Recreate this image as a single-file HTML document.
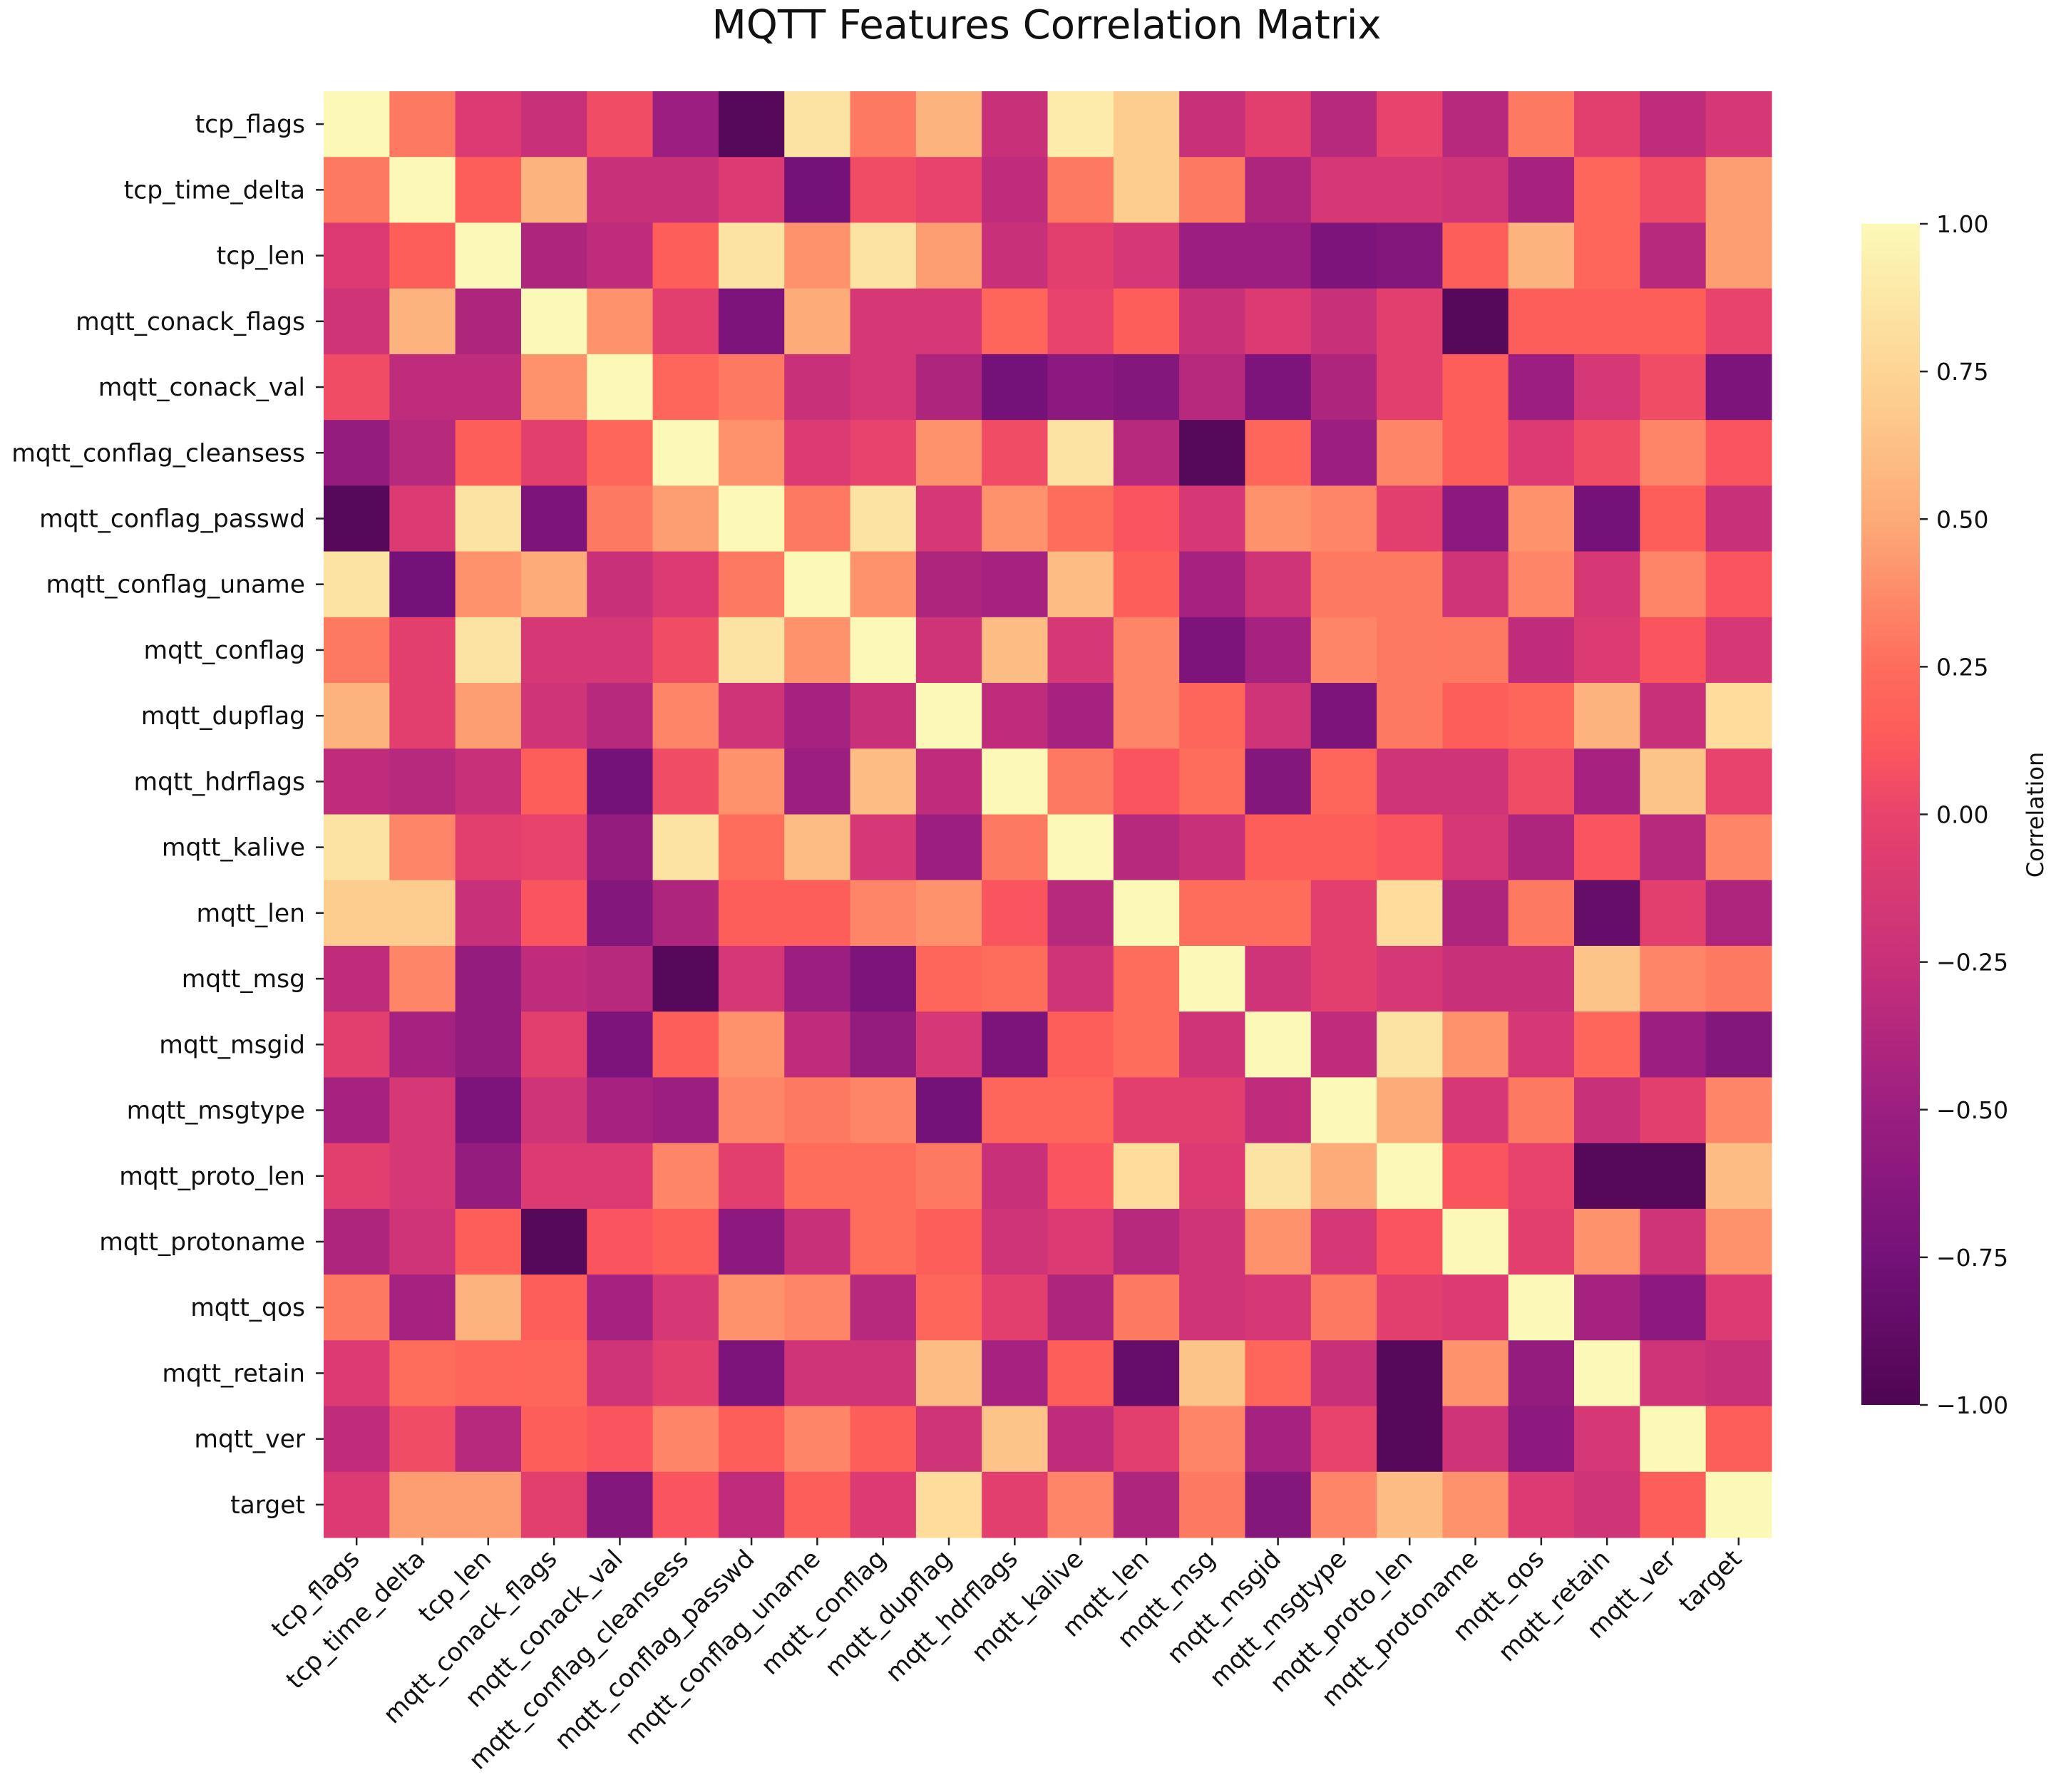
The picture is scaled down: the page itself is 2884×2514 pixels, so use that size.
<!DOCTYPE html>
<html><head><meta charset="utf-8"><style>
html,body{margin:0;padding:0;background:#fff;}
svg{display:block;font-family:"DejaVu Sans","Liberation Sans",sans-serif;}
</style></head><body>
<svg id="chart" width="2884" height="2514" viewBox="0 0 2884 2514" xmlns="http://www.w3.org/2000/svg">
<text x="1468" y="54" font-size="56" text-anchor="middle" fill="#111">MQTT Features Correlation Matrix</text>
<g id="cells"></g>
<g id="ylabels"></g>
<g id="xlabels"></g>
<defs><linearGradient id="cbgrad" x1="0" y1="1" x2="0" y2="0"></linearGradient></defs>
<rect x="2611" y="314" width="82" height="1657" fill="url(#cbgrad)"/>
<g id="cbticks"></g>
<text transform="translate(2866,1143) rotate(-90)" font-size="32" text-anchor="middle" fill="#111">Correlation</text>
</svg>
<script>
const labels = ["tcp_flags","tcp_time_delta","tcp_len","mqtt_conack_flags","mqtt_conack_val","mqtt_conflag_cleansess","mqtt_conflag_passwd","mqtt_conflag_uname","mqtt_conflag","mqtt_dupflag","mqtt_hdrflags","mqtt_kalive","mqtt_len","mqtt_msg","mqtt_msgid","mqtt_msgtype","mqtt_proto_len","mqtt_protoname","mqtt_qos","mqtt_retain","mqtt_ver","target"];
const row0 = [1,0.3,-0.1,-0.25,0.05,-0.5,-0.95,0.85,0.3,0.55,-0.25,0.9,0.7,-0.25,-0.05,-0.35,0.0,-0.35,0.3,-0.05,-0.3,-0.15];
const row1 = [0.3,1,0.15,0.55,-0.25,-0.25,-0.1,-0.75,0.05,0.0,-0.3,0.3,0.7,0.3,-0.4,-0.15,-0.15,-0.2,-0.45,0.2,0.05,0.45];
const row2 = [-0.1,0.15,1,-0.4,-0.3,0.15,0.85,0.4,0.85,0.45,-0.25,-0.05,-0.15,-0.5,-0.5,-0.7,-0.65,0.15,0.55,0.2,-0.35,0.45];
const row3 = [-0.2,0.55,-0.4,1,0.4,-0.05,-0.7,0.5,-0.15,-0.15,0.2,0.0,0.15,-0.25,-0.1,-0.25,-0.05,-0.95,0.15,0.15,0.15,0.0];
const row4 = [0.05,-0.3,-0.3,0.4,1,0.2,0.3,-0.25,-0.15,-0.4,-0.75,-0.6,-0.65,-0.35,-0.7,-0.4,-0.05,0.15,-0.5,-0.15,0.05,-0.7];
const row5 = [-0.55,-0.35,0.15,-0.05,0.2,1,0.4,-0.1,0.0,0.4,0.05,0.85,-0.35,-0.95,0.2,-0.5,0.35,0.15,-0.1,0.05,0.35,0.1];
const row6 = [-0.95,-0.1,0.85,-0.7,0.3,0.45,1,0.3,0.85,-0.15,0.4,0.25,0.1,-0.15,0.4,0.35,-0.05,-0.6,0.4,-0.75,0.15,-0.25];
const row7 = [0.85,-0.75,0.4,0.5,-0.25,-0.1,0.3,1,0.4,-0.4,-0.45,0.6,0.15,-0.45,-0.2,0.3,0.3,-0.2,0.35,-0.15,0.35,0.1];
const row8 = [0.3,-0.05,0.85,-0.15,-0.15,0.05,0.85,0.4,1,-0.2,0.6,-0.15,0.35,-0.7,-0.45,0.35,0.3,0.3,-0.3,-0.1,0.1,-0.15];
const row9 = [0.55,-0.05,0.45,-0.2,-0.35,0.35,-0.2,-0.45,-0.25,1,-0.3,-0.45,0.35,0.2,-0.2,-0.7,0.3,0.15,0.2,0.55,-0.25,0.8];
const row10 = [-0.3,-0.35,-0.25,0.15,-0.75,0.05,0.4,-0.5,0.6,-0.3,1,0.3,0.1,0.25,-0.65,0.2,-0.2,-0.2,0.05,-0.45,0.65,0.0];
const row11 = [0.85,0.35,-0.05,0.0,-0.55,0.85,0.25,0.6,-0.15,-0.5,0.3,1,-0.35,-0.25,0.15,0.15,0.1,-0.15,-0.4,0.1,-0.35,0.35];
const row12 = [0.7,0.7,-0.25,0.1,-0.65,-0.4,0.15,0.15,0.35,0.4,0.1,-0.35,1,0.25,0.25,-0.05,0.8,-0.4,0.3,-0.85,-0.05,-0.4];
const row13 = [-0.3,0.35,-0.55,-0.3,-0.35,-0.95,-0.15,-0.5,-0.7,0.2,0.25,-0.2,0.25,1,-0.2,-0.05,-0.15,-0.25,-0.25,0.65,0.35,0.3];
const row14 = [-0.05,-0.45,-0.55,-0.05,-0.7,0.15,0.4,-0.3,-0.55,-0.15,-0.7,0.15,0.25,-0.2,1,-0.3,0.85,0.4,-0.15,0.2,-0.5,-0.65];
const row15 = [-0.45,-0.15,-0.7,-0.2,-0.45,-0.5,0.35,0.3,0.35,-0.75,0.2,0.2,-0.05,-0.05,-0.3,1,0.5,-0.15,0.3,-0.25,-0.05,0.35];
const row16 = [-0.05,-0.15,-0.55,-0.1,-0.1,0.35,-0.05,0.25,0.25,0.3,-0.25,0.1,0.8,-0.1,0.85,0.5,1,0.1,0.0,-0.95,-0.95,0.6];
const row17 = [-0.4,-0.2,0.15,-0.95,0.1,0.15,-0.6,-0.25,0.25,0.15,-0.2,-0.1,-0.35,-0.2,0.4,-0.15,0.1,1,-0.05,0.4,-0.2,0.4];
const row18 = [0.3,-0.45,0.55,0.15,-0.45,-0.15,0.4,0.35,-0.35,0.2,-0.05,-0.4,0.3,-0.2,-0.15,0.3,-0.05,-0.1,1,-0.45,-0.6,-0.1];
const row19 = [-0.1,0.25,0.2,0.2,-0.2,-0.05,-0.7,-0.2,-0.2,0.6,-0.45,0.15,-0.85,0.65,0.2,-0.25,-0.95,0.4,-0.55,1,-0.2,-0.25];
const row20 = [-0.3,0.05,-0.35,0.15,0.1,0.35,0.15,0.35,0.15,-0.2,0.65,-0.3,-0.05,0.35,-0.45,0.0,-0.95,-0.2,-0.6,-0.15,1,0.15];
const row21 = [-0.1,0.45,0.45,-0.05,-0.65,0.1,-0.3,0.15,-0.1,0.8,-0.05,0.35,-0.4,0.3,-0.65,0.35,0.6,0.4,-0.1,-0.2,0.15,1];
const matrix = [row0,row1,row2,row3,row4,row5,row6,row7,row8,row9,row10,row11,row12,row13,row14,row15,row16,row17,row18,row19,row20,row21];
const cbTicks = [1,0.75,0.5,0.25,0,-0.25,-0.5,-0.75,-1];
const cbTickLabels = ["1.00","0.75","0.50","0.25","0.00","\u22120.25","\u22120.50","\u22120.75","\u22121.00"];

const NS = "http://www.w3.org/2000/svg";
const stops = [[-1,[78,5,82]],[-0.75,[116,18,121]],[-0.5,[156,30,129]],[-0.25,[200,48,122]],[0,[232,67,108]],[0.125,[254,90,90]],[0.25,[254,108,92]],[0.5,[253,171,120]],[0.75,[253,213,149]],[1,[252,249,184]]];
function color(v){
  v=Math.max(-1,Math.min(1,v));
  for(let i=0;i<stops.length-1;i++){
    const a=stops[i],b=stops[i+1];
    if(v<=b[0]){const t=(v-a[0])/(b[0]-a[0]);
      const c=a[1].map((x,k)=>Math.round(x+(b[1][k]-x)*t));
      return `rgb(${c[0]},${c[1]},${c[2]})`;}
  }
  return "rgb(252,249,184)";
}
const X0=454, Y0=128, W=2031, H=2029, n=labels.length;
const cw=W/n, ch=H/n;
const xs=i=>X0+i*cw, ys=j=>Y0+j*ch;
const cbTop=314, cbBot=1971;
const cbY=v=>cbBot-(v+1)/2*(cbBot-cbTop);

const cells=document.getElementById('cells');
matrix.forEach((row,j)=>row.forEach((v,i)=>{
  const r=document.createElementNS(NS,'rect');
  r.setAttribute('x',xs(i));r.setAttribute('y',ys(j));
  r.setAttribute('width',cw+0.6);r.setAttribute('height',ch+0.6);
  r.setAttribute('fill',color(v));
  
  
  cells.appendChild(r);
}));

const yl=document.getElementById('ylabels');
const xl=document.getElementById('xlabels');
labels.forEach((l,j)=>{
  const cy=ys(j)+ch/2;
  const tk=document.createElementNS(NS,'line');
  tk.setAttribute('x1',X0-11);tk.setAttribute('x2',X0);tk.setAttribute('y1',cy);tk.setAttribute('y2',cy);
  tk.setAttribute('stroke','#222');tk.setAttribute('stroke-width','2.5');
  
  
  yl.appendChild(tk);
  const t=document.createElementNS(NS,'text');
  t.setAttribute('x',428);t.setAttribute('y',cy+12);
  t.setAttribute('font-size','34.5');t.setAttribute('text-anchor','end');t.setAttribute('fill','#111');
  t.textContent=l;
  
  
  yl.appendChild(t);

  const cx=xs(j)+cw/2;
  const tx=document.createElementNS(NS,'line');
  tx.setAttribute('x1',cx);tx.setAttribute('x2',cx);tx.setAttribute('y1',Y0+H);tx.setAttribute('y2',Y0+H+11);
  tx.setAttribute('stroke','#222');tx.setAttribute('stroke-width','2.5');
  
  
  xl.appendChild(tx);
  const u=document.createElementNS(NS,'text');
  u.setAttribute('transform',`translate(${cx+6},${Y0+H+32}) rotate(-45)`);
  u.setAttribute('font-size','35');u.setAttribute('text-anchor','end');u.setAttribute('fill','#111');
  u.textContent=l;
  
  
  xl.appendChild(u);
});

const grad=document.getElementById('cbgrad');
for(let k=0;k<=40;k++){
  const v=-1+k*0.05;
  const s=document.createElementNS(NS,'stop');
  s.setAttribute('offset',(k/40).toFixed(4));
  s.setAttribute('stop-color',color(v));
  grad.appendChild(s);
}
const cbt=document.getElementById('cbticks');
cbTicks.forEach((v,i)=>{
  const y=cbY(v);
  const ln=document.createElementNS(NS,'line');
  ln.setAttribute('x1',2693);ln.setAttribute('x2',2704);ln.setAttribute('y1',y);ln.setAttribute('y2',y);
  ln.setAttribute('stroke','#222');ln.setAttribute('stroke-width','2.5');
  
  
  cbt.appendChild(ln);
  const t=document.createElementNS(NS,'text');
  t.setAttribute('x',2716);t.setAttribute('y',y+12);
  t.setAttribute('font-size','33');t.setAttribute('fill','#111');
  t.textContent=cbTickLabels[i];
  
  
  cbt.appendChild(t);
});
</script>
</body></html>
